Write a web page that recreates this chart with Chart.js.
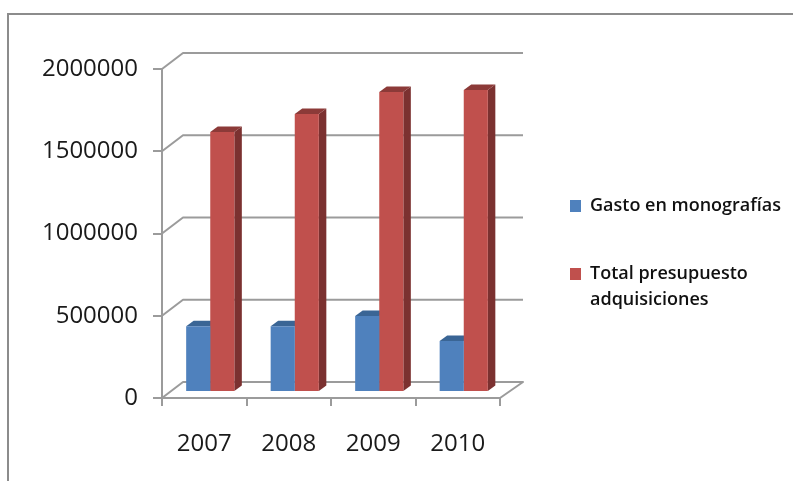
<!DOCTYPE html>
<html><head><meta charset="utf-8">
<style>html,body{margin:0;padding:0;background:#fff}canvas{display:block}</style>
<script src="https://cdn.jsdelivr.net/npm/chart.js@4"></script></head>
<body><canvas id="c" width="793" height="481"></canvas>
<script>
const categories = ['2007','2008','2009','2010'];
const gastoLabel = 'Gasto en monografías';
const totalLabel = ['Total presupuesto','adquisiciones'];
const gastoValues = [400000,400000,462000,310000];
const totalValues = [1580000,1690000,1824000,1836000];
const tickStep = 500000, axisMax = 2000000;
const GRID='#9b9b9b', FONT='"Open Sans", sans-serif';
const WALL={dx:21,dy:-16}, BAR={dx:6,dy:-6}, DEPTH={dx:7.5,dy:-5.5};
const faces=[{top:'#3a6595',side:'#2f5480'},{top:'#8c3a38',side:'#7b3130'}];
const depth3d={
  id:'depth3d',
  beforeDraw(chart){
    const c=chart.ctx;c.save();c.fillStyle='#fff';c.fillRect(0,0,793,481);
    c.strokeStyle='#8c8c8c';c.lineWidth=2;c.beginPath();c.moveTo(8,481);c.lineTo(8,14);c.lineTo(793,14);c.stroke();c.restore();
  },
  afterLayout(chart){
    const l=chart.legend,w=l.right-l.left,h=l.bottom-l.top;
    l.left=520;l.right=520+w;l.top=147;l.bottom=147+h;
  },
  beforeDatasetsDraw(chart){
    const c=chart.ctx,y=chart.scales.y,a=chart.chartArea;
    c.save();c.strokeStyle=GRID;c.lineWidth=2;c.lineJoin='round';
    y.ticks.forEach(t=>{
      const p=y.getPixelForValue(t.value);
      c.beginPath();c.moveTo(a.left,p);c.lineTo(a.left+WALL.dx,p+WALL.dy);c.lineTo(a.right+WALL.dx+2,p+WALL.dy);
      if(t.value===0)c.lineTo(a.right,p);
      c.stroke();
    });
    c.restore();
    c.save();c.translate(BAR.dx,BAR.dy);
    chart.data.datasets.forEach((ds,i)=>{
      chart.getDatasetMeta(i).data.forEach(el=>{
        const L=el.x-el.width/2,R=el.x+el.width/2,T=el.y,B=el.base;
        c.fillStyle=faces[i].side;c.beginPath();
        c.moveTo(R,T);c.lineTo(R+DEPTH.dx,T+DEPTH.dy);c.lineTo(R+DEPTH.dx,B+DEPTH.dy);c.lineTo(R,B);c.closePath();c.fill();
        c.fillStyle=faces[i].top;c.beginPath();
        c.moveTo(L,T);c.lineTo(L+DEPTH.dx,T+DEPTH.dy);c.lineTo(R+DEPTH.dx,T+DEPTH.dy);c.lineTo(R,T);c.closePath();c.fill();
      });
    });
  },
  afterDatasetsDraw(chart){chart.ctx.restore();}
};
new Chart(document.getElementById('c'),{
  type:'bar',
  data:{labels:categories,datasets:[
    {label:gastoLabel,data:gastoValues,backgroundColor:'#4f81bd',borderWidth:0},
    {label:totalLabel,data:totalValues,backgroundColor:'#c0504d',borderWidth:0}
  ]},
  options:{
    responsive:false,animation:false,
    layout:{autoPadding:false,padding:{left:0,top:69,right:293,bottom:23}},
    categoryPercentage:0.57,barPercentage:1,
    scales:{
      x:{afterFit(s){s.height=60;},
         grid:{drawOnChartArea:false,drawTicks:true,tickLength:8,color:GRID,lineWidth:2},
         border:{color:GRID,width:2},
         ticks:{padding:24,color:'#1a1a1a',font:{family:FONT,size:24},maxRotation:0}},
      y:{min:0,max:axisMax,afterFit(s){s.width=162;},
         grid:{drawOnChartArea:false,drawTicks:true,tickLength:9,color:GRID,lineWidth:2},
         border:{color:GRID,width:2},
         ticks:{stepSize:tickStep,padding:15,color:'#1a1a1a',font:{family:FONT,size:24},callback:v=>String(v)}}
    },
    plugins:{
      legend:{position:'chartArea',align:'start',
        labels:{boxWidth:11,boxHeight:12,padding:50,color:'#111',font:{family:FONT,size:18,weight:'600',lineHeight:1.45},
          generateLabels(chart){return chart.data.datasets.map((d,i)=>({text:d.label,fillStyle:d.backgroundColor,strokeStyle:d.backgroundColor,lineWidth:0,datasetIndex:i,fontColor:'#111'}));}}},
      tooltip:{enabled:false}
    }
  },
  plugins:[depth3d]
});
</script></body></html>
